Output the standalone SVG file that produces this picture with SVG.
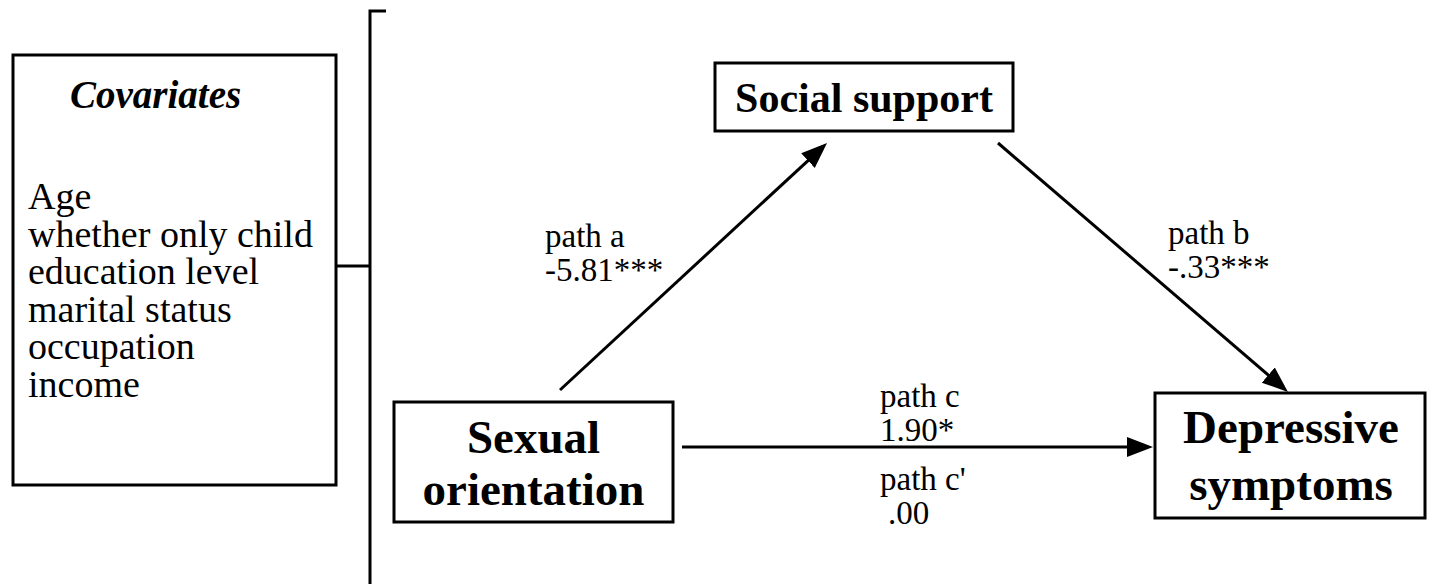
<svg xmlns="http://www.w3.org/2000/svg" width="1434" height="584" viewBox="0 0 1434 584">
<style>
.box{fill:#fff;stroke:#000;stroke-width:3}
.ln{fill:none;stroke:#000;stroke-width:3}
.t{font-family:"Liberation Serif","Times New Roman",serif;fill:#000}
.node{font-weight:bold;font-size:47px;text-anchor:middle}
.cov{font-size:38px}
.lab{font-size:33px}
</style>
<defs>
<marker id="ah" markerUnits="userSpaceOnUse" markerWidth="27" markerHeight="21" refX="16" refY="10" orient="auto" viewBox="0 0 27 21">
<path d="M0,0 L26,10 L0,20 z" fill="#000"/>
</marker>
</defs>
<rect width="1434" height="584" fill="#fff"/>
<g id="covariates">
<rect class="box" x="13" y="55" width="323" height="430"/>
<text class="t cov" x="70" y="108" font-weight="bold" font-style="italic" style="font-size:39px">Covariates</text>
<text class="t cov"><tspan x="28" y="209">Age</tspan><tspan x="28" y="246.5">whether only child</tspan><tspan x="28" y="284">education level</tspan><tspan x="28" y="321.5">marital status</tspan><tspan x="28" y="359">occupation</tspan><tspan x="28" y="396.5">income</tspan></text>
</g>
<g id="social-support">
<rect class="box" x="715" y="63" width="298" height="68"/>
<text class="t node" x="864" y="112" style="font-size:42px">Social support</text>
</g>
<g id="sexual-orientation">
<rect class="box" x="394" y="402" width="279" height="120"/>
<text class="t node" x="533.5" y="453">Sexual</text>
<text class="t node" x="533.5" y="505">orientation</text>
</g>
<g id="depressive-symptoms">
<rect class="box" x="1155" y="393" width="270" height="125"/>
<text class="t node" x="1291" y="443">Depressive</text>
<text class="t node" x="1291" y="500">symptoms</text>
</g>
<g id="connectors">
<path class="ln" d="M386,11 H370 V584 M336,266 H370"/>
<line class="ln" x1="560" y1="390" x2="819.7" y2="149.8" marker-end="url(#ah)"/>
<line class="ln" x1="998" y1="143" x2="1280.4" y2="385.5" marker-end="url(#ah)"/>
<line class="ln" x1="682" y1="447" x2="1143" y2="447" marker-end="url(#ah)"/>
</g>
<g id="labels">
<text class="t lab" x="545" y="247">path a</text>
<text class="t lab" x="545" y="281">-5.81***</text>
<text class="t lab" x="1168" y="244">path b</text>
<text class="t lab" x="1168" y="278">-.33***</text>
<text class="t lab" x="880" y="407">path c</text>
<text class="t lab" x="880" y="441">1.90*</text>
<text class="t lab" x="880" y="490">path c'</text>
<text class="t lab" x="888" y="524">.00</text>
</g>
</svg>
